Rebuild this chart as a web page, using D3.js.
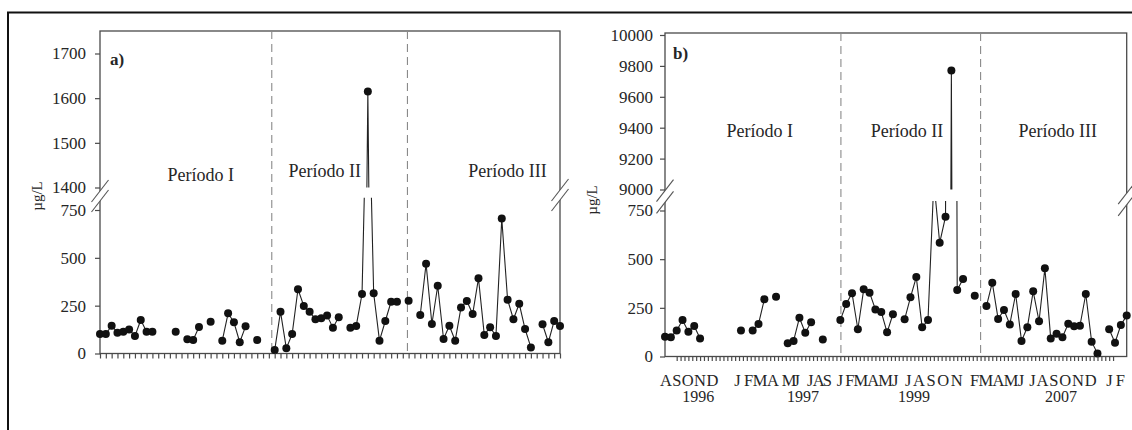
<!DOCTYPE html>
<html><head><meta charset="utf-8">
<script src="https://cdn.jsdelivr.net/npm/d3@7"></script>
<style>
body{margin:0;background:#fff}
text{font-family:"Liberation Serif","Times New Roman",serif;fill:#262626}
</style>
</head><body>
<svg id="c" width="1132" height="430"></svg>
<script>
// ---------------- DATA ----------------
// sample slots 0..79 (sampling dates, three periods), null = no sample
const valuesA = [102,102,145,109,114,126,91,175,114,114,
  null,null,null,114,null,74,71,139,null,166,
  null,67,210,163,59,142,null,71,null,null,
  18,218,27,102,336,248,218,179,184,198,
  135,189,null,135,144,311,1615,315,67,170,
  271,271,null,276,null,201,469,154,354,76,
  145,67,241,274,206,393,97,137,91,705,
  281,179,260,128,32,null,153,59,170,144];
const valuesB = [102,99,133,187,127,157,93,null,null,null,
  null,null,null,133,null,133,167,294,null,307,
  null,68,80,199,122,176,null,87,null,null,
  187,270,325,140,345,328,242,229,124,217,
  null,191,304,408,150,187,900,584,718,9770,
  342,398,null,312,null,259,379,193,239,165,
  321,80,150,335,181,453,93,117,99,168,
  155,158,321,76,16,null,140,71,162,210];
const periodNames = ["Período I","Período II","Período III"];
const dividersA = [29.5, 52.8];
const dividersB = [30.1, 54.0];
const ticksLower = [0,250,500,750];
const ticksUpperA = [1400,1500,1600,1700];
const ticksUpperB = [9000,9200,9400,9600,9800,10000];
const monthGroups = ["ASOND","J FMA","MJ","J AS","J FMAMJ","JASON","FMAMJ","JASOND","J F"];
const monthGroupStart = [-0.86,11.86,19.97,24.3,29.38,41.06,52.18,62.33,75.5];
const monthGroupEnd   = [9.12,19.5,23.1,28.57,39.92,50.93,61.47,73.86,78.7];
const years = ["1996","1997","1999","2007"];
const yearCenter = [5.7,23.6,42.6,67.75];
const unitLabel = "µg/L";

// ---------------- DRAW ----------------
const svg = d3.select("#c");
svg.append("rect").attr("x",8).attr("y",12.5).attr("width",1140).attr("height",440)
  .attr("fill","none").attr("stroke","#111").attr("stroke-width",2);

function panel(cfg){
  const g = svg.append("g");
  const x = d3.scaleLinear([0,79],[cfg.x0,cfg.x1]);
  const yLo = d3.scaleLinear([0,750],[cfg.yBase,cfg.y750]);
  const yUp = d3.scaleLinear(cfg.upDomain,cfg.upRange);
  const data = cfg.values.map((v,i)=>({i,v}));

  g.append("rect").attr("x",cfg.x0).attr("y",cfg.top)
    .attr("width",cfg.x1-cfg.x0).attr("height",cfg.yBase-cfg.top)
    .attr("fill","none").attr("stroke","#4a4a4a").attr("stroke-width",1.3);

  g.selectAll(".div").data(cfg.dividers).join("line")
    .attr("x1",d=>x(d)).attr("x2",d=>x(d)).attr("y1",cfg.top).attr("y2",cfg.yBase)
    .attr("stroke","#8a8a8a").attr("stroke-width",1.1).attr("stroke-dasharray","8,5");

  const defs = svg.append("defs");
  defs.append("clipPath").attr("id",cfg.id+"lo").append("rect")
    .attr("x",cfg.x0-10).attr("y",cfg.loClipTop).attr("width",cfg.x1-cfg.x0+20).attr("height",cfg.yBase+10-cfg.loClipTop);
  defs.append("clipPath").attr("id",cfg.id+"up").append("rect")
    .attr("x",cfg.x0-10).attr("y",cfg.top).attr("width",cfg.x1-cfg.x0+20).attr("height",cfg.upRange[0]-cfg.top);

  [[yLo,"lo"],[yUp,"up"]].forEach(([y,k])=>{
    const s = g.append("g").attr("clip-path",`url(#${cfg.id+k})`);
    s.append("path").datum(data)
      .attr("d",d3.line().defined(d=>d.v!=null).x(d=>x(d.i)).y(d=>y(d.v)))
      .attr("fill","none").attr("stroke","#222").attr("stroke-width",1.1);
    s.selectAll("circle").data(data.filter(d=>d.v!=null)).join("circle")
      .attr("cx",d=>x(d.i)).attr("cy",d=>y(d.v)).attr("r",4).attr("fill","#111");
  });

  const styleAxis = a => {
    a.select(".domain").remove();
    a.selectAll(".tick line").attr("stroke","#4a4a4a").attr("stroke-width",1.2);
    a.selectAll(".tick text").attr("font-size",17).attr("fill","#262626")
      .attr("font-family","'Liberation Serif',serif");
  };
  g.append("g").attr("transform",`translate(${cfg.x0},0)`)
    .call(d3.axisLeft(yLo).tickValues(ticksLower).tickSize(5).tickPadding(cfg.pad).tickFormat(d3.format("d")))
    .call(styleAxis);
  g.append("g").attr("transform",`translate(${cfg.x0},0)`)
    .call(d3.axisLeft(yUp).tickValues(cfg.upTicks).tickSize(5).tickPadding(cfg.pad).tickFormat(d3.format("d")))
    .call(styleAxis);
  g.append("g").attr("transform",`translate(0,${cfg.yBase})`)
    .call(d3.axisBottom(x).tickValues(cfg.xTicks).tickSize(cfg.xTickLen).tickFormat(""))
    .call(styleAxis);

  cfg.breaks.forEach(([bx,by])=>{
    const dx=8.5, dy=11, o=cfg.breakGap;
    g.append("polygon")
      .attr("points",[[bx-dx,by+dy-o],[bx+dx,by-dy-o],[bx+dx,by-dy+o],[bx-dx,by+dy+o]].map(p=>p.join(",")).join(" "))
      .attr("fill","#fff");
    [-o,o].forEach(off=>{
      g.append("line").attr("x1",bx-dx).attr("y1",by+dy+off).attr("x2",bx+dx).attr("y2",by-dy+off)
        .attr("stroke","#555").attr("stroke-width",1.1);
    });
  });

  g.selectAll(".per").data(periodNames).join("text")
    .attr("x",(d,i)=>x(cfg.perX[i])).attr("y",(d,i)=>cfg.perY[i])
    .attr("text-anchor","middle").attr("font-size",18).text(d=>d);

  g.append("text").attr("x",cfg.letterXY[0]).attr("y",cfg.letterXY[1])
    .attr("font-size",17).attr("font-weight","bold").attr("fill","#1a1a1a").text(cfg.letter);

  g.append("text").attr("transform",`translate(${cfg.unitXY[0]},${cfg.unitXY[1]}) rotate(-90)`)
    .attr("text-anchor","middle").attr("font-size",15).text(unitLabel);

  return x;
}

panel({id:"a", values:valuesA, x0:100, x1:560, top:31, yBase:353.5, y750:210,
  upDomain:[1400,1700], upRange:[187.5,53.5], upTicks:ticksUpperA, loClipTop:197.7,
  dividers:dividersA, pad:9, xTicks:d3.range(0,80), xTickLen:5,
  breaks:[[100,196],[560,195]], breakGap:5,
  perX:[17.3,38.6,70.0], perY:[181,177,177],
  letter:"a)", letterXY:[110,65], unitXY:[42,196]});

const xB = panel({id:"b", values:valuesB, x0:665, x1:1126.7, top:33, yBase:356.5, y750:210.5,
  upDomain:[9000,10000], upRange:[189.5,35], upTicks:ticksUpperB, loClipTop:201,
  dividers:dividersB, pad:7, xTicks:d3.range(2,77,2/3), xTickLen:4.5,
  breaks:[[665,196.5],[1126.7,199]], breakGap:5.8,
  perX:[16.2,41.4,67.2], perY:[137,137,137],
  letter:"b)", letterXY:[673,59], unitXY:[597,200]});

svg.append("g").selectAll("text").data(monthGroups).join("text")
  .attr("x",(d,i)=>xB(monthGroupStart[i])).attr("y",386)
  .attr("textLength",(d,i)=>xB(monthGroupEnd[i])-xB(monthGroupStart[i]))
  .attr("lengthAdjust","spacing")
  .attr("font-size",16.5).text(d=>d);
svg.append("g").selectAll("text").data(years).join("text")
  .attr("x",(d,i)=>xB(yearCenter[i])).attr("y",402).attr("text-anchor","middle")
  .attr("font-size",16).text(d=>d);
</script>
</body></html>
